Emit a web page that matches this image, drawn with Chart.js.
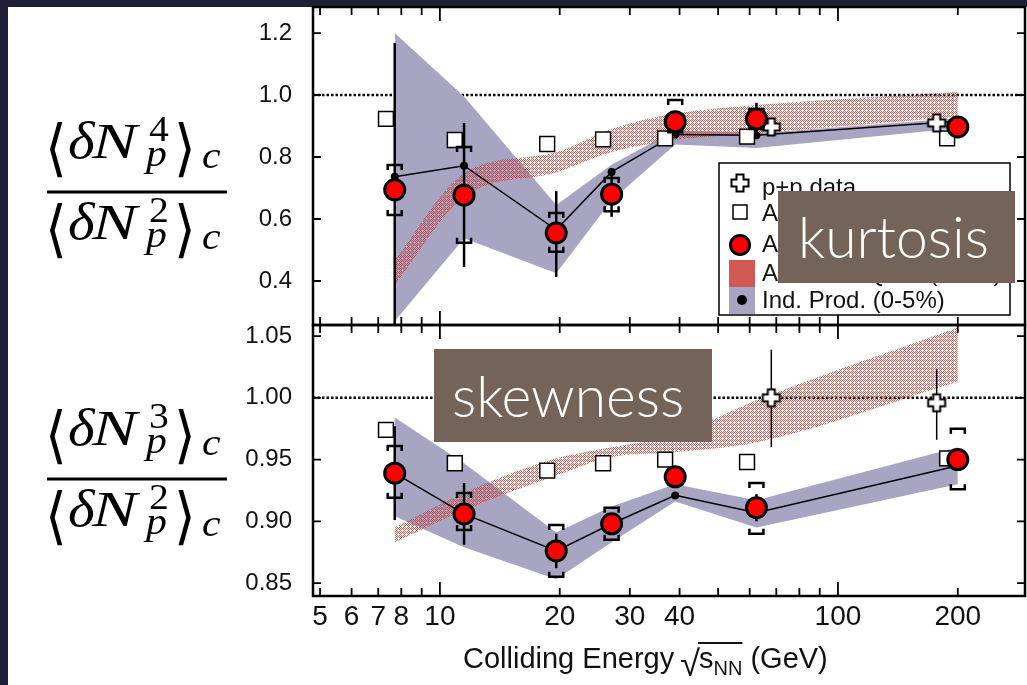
<!DOCTYPE html>
<html>
<head>
<meta charset="utf-8">
<script src="https://cdn.jsdelivr.net/npm/chart.js@4/dist/chart.umd.min.js"></script>
<style>
  html, body { margin: 0; padding: 0; background: #1f2035; }
  canvas { display: block; }
</style>
</head>
<body>
<canvas id="myChart" width="1027" height="685"></canvas>
<script>
// ---- dados ----
const energia = [7.7, 11.5, 19.6, 27, 39, 62.4, 200];
const energiaQuad = [7.32, 10.9, 18.6, 25.7, 36.8, 59.1, 188]; // quadrados ficam um pouco a esquerda
const energiaPP = [68, 177];

const xRotulos = [5, 6, 7, 8, 10, 20, 30, 40, 100, 200];
const xMarcas = [5, 6, 7, 8, 9, 10, 20, 30, 40, 50, 60, 70, 80, 90, 100, 200];
const xMin = 4.8, xMax = 295;

// painel de cima: kurtosis
const kRotulos = ['0.4', '0.6', '0.8', '1.0', '1.2'];
const kTicks = [0.4, 0.6, 0.8, 1.0, 1.2];
const kCentral = [0.694, 0.677, 0.555, 0.680, 0.914, 0.923, 0.897];
const kStatLo = [0.26, 0.445, 0.413, 0.607, 0.885, 0.875, 0.885];
const kStatHi = [1.168, 0.910, 0.690, 0.760, 0.945, 0.975, 0.912];
const kSysLo = [0.613, 0.523, 0.494, 0.625, 0.880, 0.890, 0.885];
const kSysHi = [0.774, 0.832, 0.619, 0.732, 0.984, 0.955, 0.910];
const kInd = [0.736, 0.772, 0.565, 0.752, 0.873, 0.870, 0.915];
const kBandaHi = [1.2, 0.995, 0.645, 0.775, 0.887, 0.877, 0.925];
const kBandaLo = [0.27, 0.538, 0.425, 0.660, 0.840, 0.829, 0.893];
const kUrqmdHi = [0.468, 0.748, 0.815, 0.890, 0.940, 0.968, 1.010];
const kUrqmdLo = [0.387, 0.671, 0.750, 0.816, 0.855, 0.877, 0.930];
const kQuad = [0.923, 0.855, 0.842, 0.857, 0.860, 0.866, 0.860];
const kPP = [0.897, 0.910];

// painel de baixo: skewness
const sRotulos = ['0.85', '0.90', '0.95', '1.00', '1.05'];
const sTicks = [0.85, 0.90, 0.95, 1.00, 1.05];
const sCentral = [0.939, 0.906, 0.876, 0.898, 0.936, 0.911, 0.950];
const sStatLo = [0.901, 0.881, 0.862, 0.890, 0.928, 0.900, 0.944];
const sStatHi = [0.977, 0.931, 0.890, 0.906, 0.944, 0.922, 0.956];
const sSysLo = [0.919, 0.893, 0.855, 0.885, 0.930, 0.890, 0.926];
const sSysHi = [0.961, 0.923, 0.897, 0.911, 0.942, 0.931, 0.975];
const sInd = [0.939, 0.906, 0.876, 0.898, 0.921, 0.907, 0.945];
const sBandaHi = [0.984, 0.947, 0.891, 0.912, 0.930, 0.917, 0.960];
const sBandaLo = [0.904, 0.879, 0.853, 0.883, 0.916, 0.895, 0.930];
const sUrqmdHi = [0.895, 0.923, 0.951, 0.960, 0.970, 0.998, 1.057];
const sUrqmdLo = [0.883, 0.909, 0.937, 0.952, 0.956, 0.964, 1.013];
const sQuad = [0.974, 0.947, 0.941, 0.947, 0.950, 0.948, 0.951];
const sPP = [1.000, 0.996];
const sPPLo = [0.960, 0.966];
const sPPHi = [1.039, 1.023];

const linhaRef = 1.0;

const lavanda = '#a8a5c3';
const vermelho = '#ff0000';
const fonteEixo = "'Liberation Sans Narrow', 'Liberation Sans', Arial, sans-serif";

function pontos(xs, ys) {
  return xs.map((x, i) => ({ x: x, y: ys[i] }));
}

// cruz vazada (p+p)
function fazCruz() {
  const cv = document.createElement('canvas');
  cv.width = 22; cv.height = 22;
  const c = cv.getContext('2d');
  const o = 11, a = 3.5, b = 8.5;
  c.beginPath();
  c.moveTo(o - a, o - b); c.lineTo(o + a, o - b); c.lineTo(o + a, o - a); c.lineTo(o + b, o - a);
  c.lineTo(o + b, o + a); c.lineTo(o + a, o + a); c.lineTo(o + a, o + b); c.lineTo(o - a, o + b);
  c.lineTo(o - a, o + a); c.lineTo(o - b, o + a); c.lineTo(o - b, o - a); c.lineTo(o - a, o - a);
  c.closePath();
  c.fillStyle = '#fff'; c.fill();
  c.lineWidth = 2; c.strokeStyle = '#000'; c.stroke();
  return cv;
}

// hachura vermelha da banda UrQMD (pontinhos vermelhos com buracos)
function fazHachura() {
  const cv = document.createElement('canvas');
  cv.width = 4; cv.height = 4;
  const c = cv.getContext('2d');
  c.fillStyle = 'rgba(218,62,52,0.9)';
  [[0, 0], [2, 0], [1, 1], [3, 1], [0, 2], [3, 3], [1, 3]].forEach(p => c.fillRect(p[0], p[1], 1, 1));
  return document.getElementById('myChart').getContext('2d').createPattern(cv, 'repeat');
}

const cruz = fazCruz();
const hachura = fazHachura();

function painel(eixo, central, ind, bHi, bLo, uHi, uLo, quad, pp) {
  return [
    { label: 'circ-' + eixo, yAxisID: eixo, data: pontos(energia, central), showLine: false,
      pointStyle: 'circle', pointRadius: 10, pointBackgroundColor: vermelho, pointBorderColor: '#000',
      pointBorderWidth: 3, order: 1 },
    { label: 'pp-' + eixo, yAxisID: eixo, data: pontos(energiaPP, pp), showLine: false,
      pointStyle: cruz, pointRadius: 9, order: 2 },
    { label: 'quad-' + eixo, yAxisID: eixo, data: pontos(energiaQuad, quad), showLine: false,
      pointStyle: 'rect', pointRadius: 10.5, pointBackgroundColor: '#fff', pointBorderColor: '#000',
      pointBorderWidth: 1.5, order: 3 },
    { label: 'ind-' + eixo, yAxisID: eixo, data: pontos(energia, ind), borderColor: '#000', borderWidth: 1.5,
      pointRadius: 4, pointBackgroundColor: '#000', pointBorderWidth: 0, order: 4 },
    { label: 'urqmdHi-' + eixo, yAxisID: eixo, data: pontos(energia, uHi), borderWidth: 0, pointRadius: 0,
      cubicInterpolationMode: 'monotone', fill: '+1', backgroundColor: hachura, order: 5 },
    { label: 'urqmdLo-' + eixo, yAxisID: eixo, data: pontos(energia, uLo), borderWidth: 0, pointRadius: 0,
      cubicInterpolationMode: 'monotone', fill: false, order: 5 },
    { label: 'bandaHi-' + eixo, yAxisID: eixo, data: pontos(energia, bHi), borderWidth: 0, pointRadius: 0,
      fill: '+1', backgroundColor: lavanda, order: 6 },
    { label: 'bandaLo-' + eixo, yAxisID: eixo, data: pontos(energia, bLo), borderWidth: 0, pointRadius: 0,
      fill: false, order: 6 },
    { label: 'ref-' + eixo, yAxisID: eixo, data: [{ x: xMin, y: linhaRef }, { x: xMax, y: linhaRef }],
      borderColor: '#000', borderWidth: 2.5, borderDash: [2.5, 2], pointRadius: 0, order: 7 }
  ];
}

function desenhaErros(chart, eixo, xs, statLo, statHi, sysLo, sysHi, larg) {
  const c = chart.ctx, sx = chart.scales.x, sy = chart.scales[eixo], a = chart.chartArea;
  c.save();
  c.beginPath(); c.rect(a.left, sy.top, a.right - a.left, sy.bottom - sy.top); c.clip();
  c.strokeStyle = '#000';
  xs.forEach((e, i) => {
    const x = sx.getPixelForValue(e);
    c.lineWidth = larg;
    c.beginPath();
    c.moveTo(x, sy.getPixelForValue(statLo[i]));
    c.lineTo(x, sy.getPixelForValue(statHi[i]));
    c.stroke();
    if (!sysLo) return;
    const yh = sy.getPixelForValue(sysHi[i]), yl = sy.getPixelForValue(sysLo[i]);
    c.lineWidth = 2.5;
    c.beginPath();
    c.moveTo(x - 7, yh + 5); c.lineTo(x - 7, yh); c.lineTo(x + 7, yh); c.lineTo(x + 7, yh + 5);
    c.moveTo(x - 7, yl - 5); c.lineTo(x - 7, yl); c.lineTo(x + 7, yl); c.lineTo(x + 7, yl - 5);
    c.stroke();
  });
  c.restore();
}

const errosPlugin = {
  id: 'erros',
  beforeDatasetDraw(chart, args) {
    const lab = chart.data.datasets[args.index].label;
    if (lab === 'circ-yk') desenhaErros(chart, 'yk', energia, kStatLo, kStatHi, kSysLo, kSysHi, 2.5);
    if (lab === 'circ-ys') desenhaErros(chart, 'ys', energia, sStatLo, sStatHi, sSysLo, sSysHi, 2.5);
    if (lab === 'pp-ys') desenhaErros(chart, 'ys', energiaPP, sPPLo, sPPHi, null, null, 1.5);
  }
};

const fundoPlugin = {
  id: 'fundo',
  beforeDraw(chart) {
    const c = chart.ctx;
    c.save();
    c.fillStyle = '#1f2035';
    c.fillRect(0, 0, chart.width, chart.height);
    c.fillStyle = '#fff';
    c.fillRect(8, 7, chart.width - 8, chart.height - 7);
    c.restore();
  }
};

const molduraPlugin = {
  id: 'moldura',
  afterDatasetsDraw(chart) {
    const c = chart.ctx, sx = chart.scales.x, a = chart.chartArea;
    c.save();
    c.strokeStyle = '#000';
    ['yk', 'ys'].forEach(id => {
      const sy = chart.scales[id];
      c.lineWidth = 1.8;
      c.beginPath();
      xMarcas.forEach(v => {
        const x = sx.getPixelForValue(v);
        const L = (v === 10 || v === 100) ? 14 : 8;
        c.moveTo(x, sy.top); c.lineTo(x, sy.top + L);
        c.moveTo(x, sy.bottom); c.lineTo(x, sy.bottom - L);
      });
      sy.ticks.forEach(t => {
        const y = sy.getPixelForValue(t.value);
        c.moveTo(a.left, y); c.lineTo(a.left + 8, y);
        c.moveTo(a.right, y); c.lineTo(a.right - 8, y);
      });
      c.stroke();
      c.lineWidth = 2.5;
      c.strokeRect(a.left, sy.top, a.right - a.left, sy.bottom - sy.top);
    });

    // legenda do painel de cima
    c.fillStyle = '#fff';
    c.fillRect(719, 163, 291, 152);
    c.lineWidth = 1.5;
    c.strokeRect(719, 163, 291, 152);
    c.drawImage(cruz, 740 - 11, 183 - 11);
    c.fillStyle = '#fff';
    c.fillRect(733, 205, 14, 14);
    c.strokeRect(733, 205, 14, 14);
    c.beginPath(); c.arc(740, 245, 9.5, 0, Math.PI * 2);
    c.fillStyle = vermelho; c.fill(); c.lineWidth = 3; c.stroke();
    c.fillStyle = '#d25854'; c.fillRect(729, 260, 26, 27);
    c.fillStyle = lavanda; c.fillRect(729, 287, 26, 27);
    c.beginPath(); c.arc(742, 300, 5, 0, Math.PI * 2);
    c.fillStyle = '#000'; c.fill();
    c.fillStyle = '#111';
    c.font = "24px " + fonteEixo;
    c.textBaseline = 'middle';
    c.fillText('p+p data', 762, 188);
    c.fillText('Au+Au 70-80%', 762, 214);
    c.fillText('Au+Au 0-5%', 762, 245);
    c.fillText('Au+Au UrQMD (0-5%)', 762, 274);
    c.fillText('Ind. Prod. (0-5%)', 762, 301);
    c.restore();
  }
};

function txt(c, s, x, y, fonte, esc) {
  c.save();
  c.font = fonte;
  c.translate(x, y);
  c.scale(esc || 1, 1);
  c.fillText(s, 0, 0);
  c.restore();
}

function fracao(c, barra, pot) {
  const serif = "'Liberation Serif', 'DejaVu Serif', serif";
  [[barra - 34, pot], [barra + 47, '2']].forEach(([b, sup]) => {
    txt(c, '\u27E8', 45, b + 11, "62px 'DejaVu Sans'", 0.9);
    txt(c, 'δ', 68, b, 'italic 52px ' + serif, 1.1);
    txt(c, 'N', 92, b, 'italic 50px ' + serif, 1.35);
    txt(c, sup, 149, b - 17, '36px ' + serif, 1.1);
    txt(c, 'p', 146, b + 8, 'italic 38px ' + serif, 1.1);
    txt(c, '\u27E9', 174, b + 11, "62px 'DejaVu Sans'", 0.9);
    txt(c, 'c', 202, b + 10, 'italic 38px ' + serif, 1.1);
  });
  c.fillRect(47, barra - 1.5, 180, 3);
}

const textosPlugin = {
  id: 'textos',
  afterDraw(chart) {
    const c = chart.ctx;
    c.save();
    c.fillStyle = '#000';
    c.textBaseline = 'alphabetic';
    fracao(c, 192, '4');
    fracao(c, 479, '3');

    // titulo do eixo x
    let x = 463;
    const b = 668;
    c.fillStyle = '#111';
    c.font = "29px " + fonteEixo;
    c.fillText('Colliding Energy ', x, b);
    x += c.measureText('Colliding Energy ').width;
    c.font = "36px " + fonteEixo;
    c.fillText('\u221A', x - 2, b + 8);
    x += c.measureText('\u221A').width - 3;
    const x0 = x;
    c.font = "29px " + fonteEixo;
    c.fillText('s', x, b);
    x += c.measureText('s').width;
    c.font = "20px " + fonteEixo;
    c.fillText('NN', x, b + 7);
    x += c.measureText('NN').width;
    c.fillRect(x0 - 1, 642, x - x0 + 1, 2);
    c.font = "29px " + fonteEixo;
    c.fillText(' (GeV)', x, b);

    // caixas marrons
    c.fillStyle = '#746358';
    c.fillRect(778, 191, 237, 92);
    c.fillRect(434, 349, 278, 93);
    c.fillStyle = '#fff';
    c.font = "300 57px Lato, 'Open Sans', sans-serif";
    c.fillText('kurtosis', 798, 258);
    c.fillText('skewness', 452, 417);
    c.restore();
  }
};

const eixoY = (min, max, ticks, rotulos, peso, w) => ({
  type: 'linear', position: 'left', stack: 'paineis', stackWeight: peso, weight: w,
  min: min, max: max,
  grid: { display: false }, border: { display: false },
  afterBuildTicks: s => { s.ticks = ticks.map(v => ({ value: v })); },
  afterFit: s => { s.width = 313; s.paddingTop = 0; s.paddingBottom = 0; },
  ticks: { padding: 13, color: '#111', font: { family: 'Liberation Sans', size: 24 },
           callback: (v, i) => rotulos[i] }
});

const ctx = document.getElementById('myChart').getContext('2d');
const myChart = new Chart(ctx, {
  type: 'line',
  data: {
    datasets: [
      ...painel('yk', kCentral, kInd, kBandaHi, kBandaLo, kUrqmdHi, kUrqmdLo, kQuad, kPP),
      ...painel('ys', sCentral, sInd, sBandaHi, sBandaLo, sUrqmdHi, sUrqmdLo, sQuad, sPP)
    ]
  },
  options: {
    responsive: false,
    animation: false,
    devicePixelRatio: 1,
    layout: { autoPadding: false, padding: { top: 7, right: 2, left: 0, bottom: 0 } },
    plugins: { legend: { display: false }, tooltip: { enabled: false } },
    scales: {
      x: {
        type: 'logarithmic', min: xMin, max: xMax,
        grid: { display: false }, border: { display: false },
        afterBuildTicks: s => { s.ticks = xRotulos.map(v => ({ value: v })); },
        afterFit: s => { s.height = 89; s.paddingLeft = 0; s.paddingRight = 0; },
        ticks: { autoSkip: false, maxRotation: 0, minRotation: 0, padding: -4, color: '#111',
                 font: { family: fonteEixo, size: 28 }, callback: (v, i) => String(xRotulos[i]) }
      },
      yk: eixoY(0.258, 1.284, kTicks, kRotulos, 318, 2),
      ys: eixoY(0.8395, 1.059, sTicks, sRotulos, 271, 1)
    }
  },
  plugins: [fundoPlugin, errosPlugin, molduraPlugin, textosPlugin]
});
</script>
</body>
</html>
